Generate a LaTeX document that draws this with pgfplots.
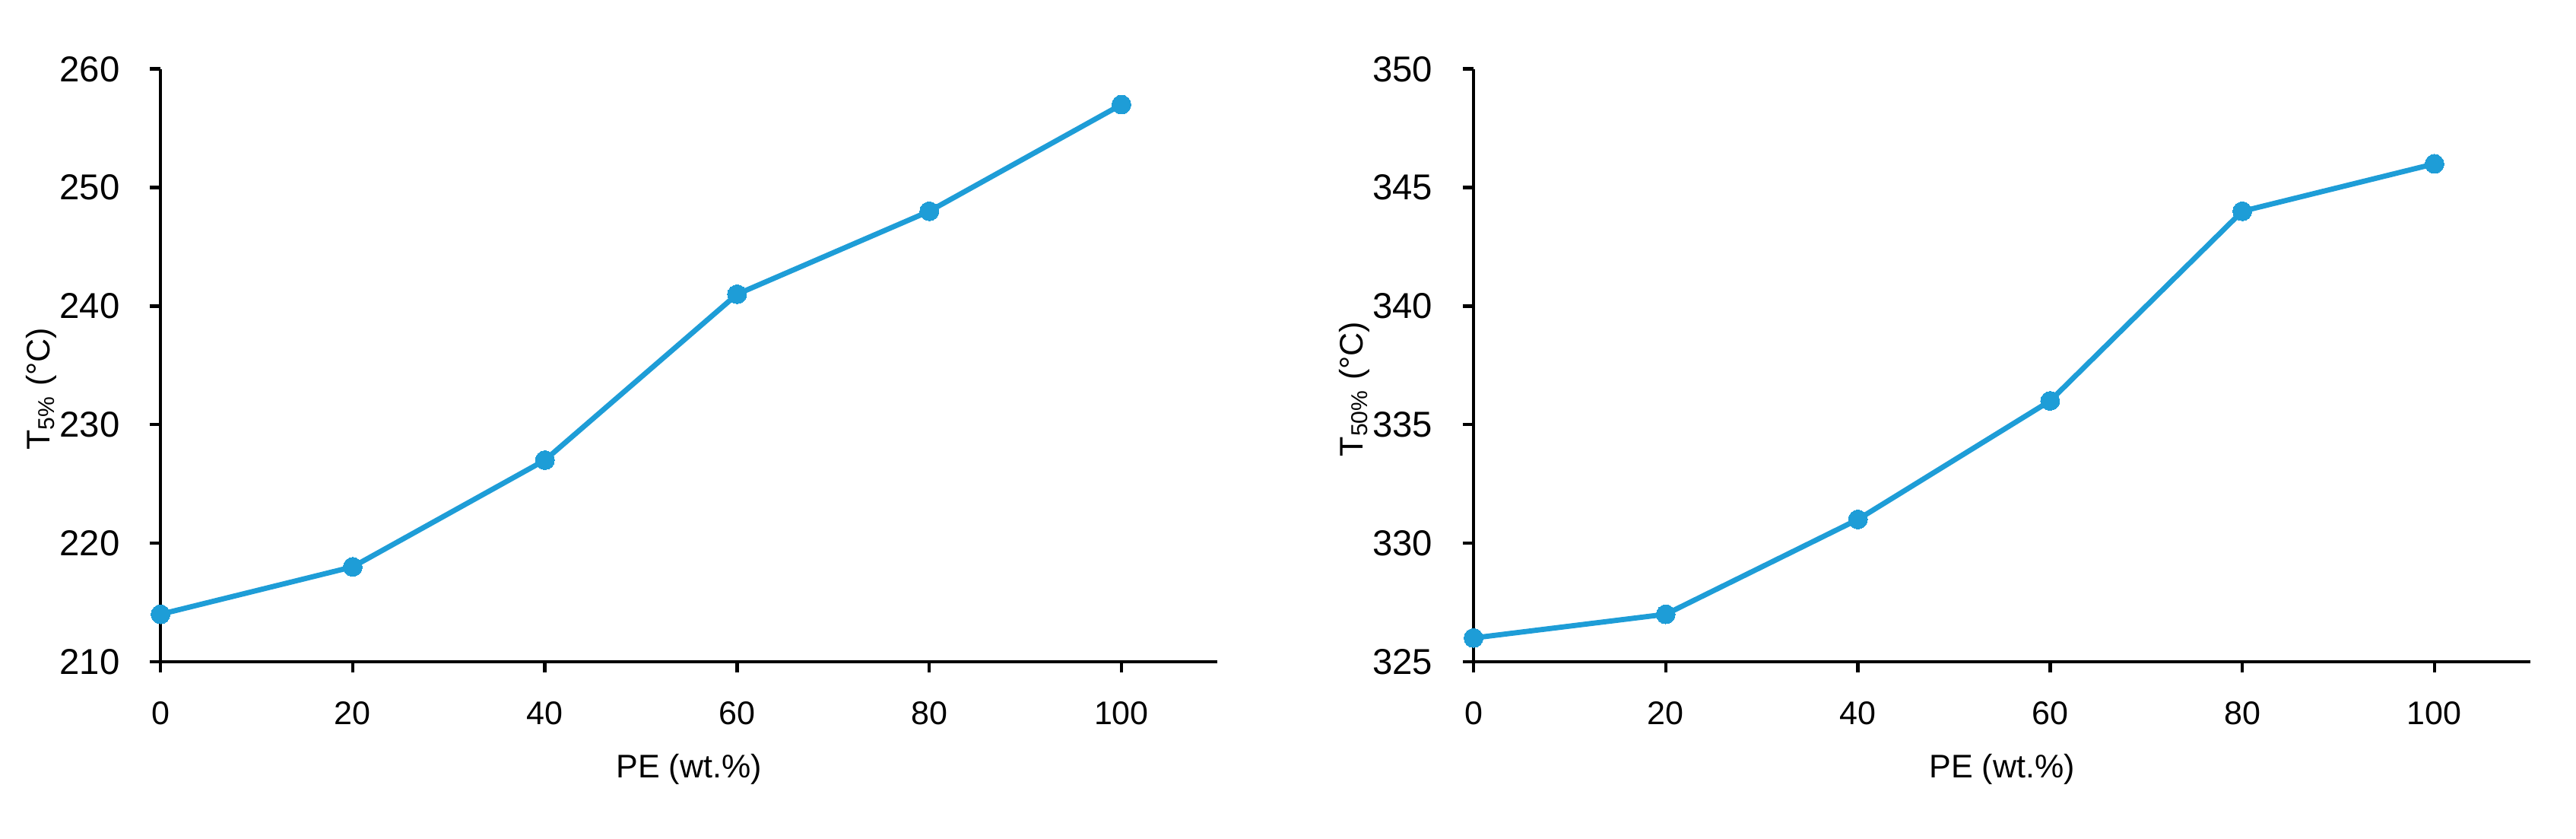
\documentclass[border=0pt]{standalone}
\usepackage{fontspec}
\setmainfont{Liberation Sans}
\usepackage{pgfplots}
\pgfplotsset{compat=1.18}
\definecolor{lineblue}{RGB}{30,157,215}
\pgfplotsset{
  mystyle/.style={
    scale only axis,
    width=323.3pt, height=181.2pt,
    axis x line=bottom, axis y line=left,
    axis line style={line width=1.05pt, -},
    every tick/.style={line width=1.05pt, black},
    tick align=outside,
    xtick pos=bottom, ytick pos=left,
    major tick length=3.3pt,
    xmin=0, xmax=110,
    xtick={0,20,40,60,80,100},
    /pgf/number format/assume math mode=true,
    xticklabel style={font=\fontsize{10}{12}\selectfont, anchor=north, inner sep=0pt, yshift=-8.8pt},
    yticklabel style={font=\fontsize{11}{13}\selectfont, anchor=east, inner sep=0pt, xshift=-9pt},
    label style={font=\fontsize{10}{12}\selectfont},
    xlabel style={at={(axis description cs:0.5,0)}, anchor=base, yshift=-35.6pt},
    ylabel style={at={(axis description cs:-0.105,0.46)}, anchor=base, rotate=0},
    xlabel={PE (wt.\%)},
    clip=false,
  },
  myline/.style={color=lineblue, line width=1.6pt, mark=*, mark size=2.9pt, mark options={fill=lineblue, draw=lineblue, line width=0pt}},
}
\begin{document}
\begin{tikzpicture}
\useasboundingbox (-49.1pt,-54pt) rectangle (738.8pt,202.3pt);
\begin{axis}[mystyle, at={(0pt,0pt)}, anchor=south west,
  ymin=210, ymax=260, ytick={210,220,...,260},
  ylabel={T\textsubscript{5\%} (°C)}]
\addplot[myline] coordinates {(0,214) (20,218) (40,227) (60,241) (80,248) (100,257)};
\end{axis}
\begin{axis}[mystyle, at={(401.6pt,0pt)}, anchor=south west,
  ymin=325, ymax=350, ytick={325,330,...,350},
  ylabel={T\textsubscript{50\%} (°C)}]
\addplot[myline] coordinates {(0,326) (20,327) (40,331) (60,336) (80,344) (100,346)};
\end{axis}
\end{tikzpicture}
\end{document}
